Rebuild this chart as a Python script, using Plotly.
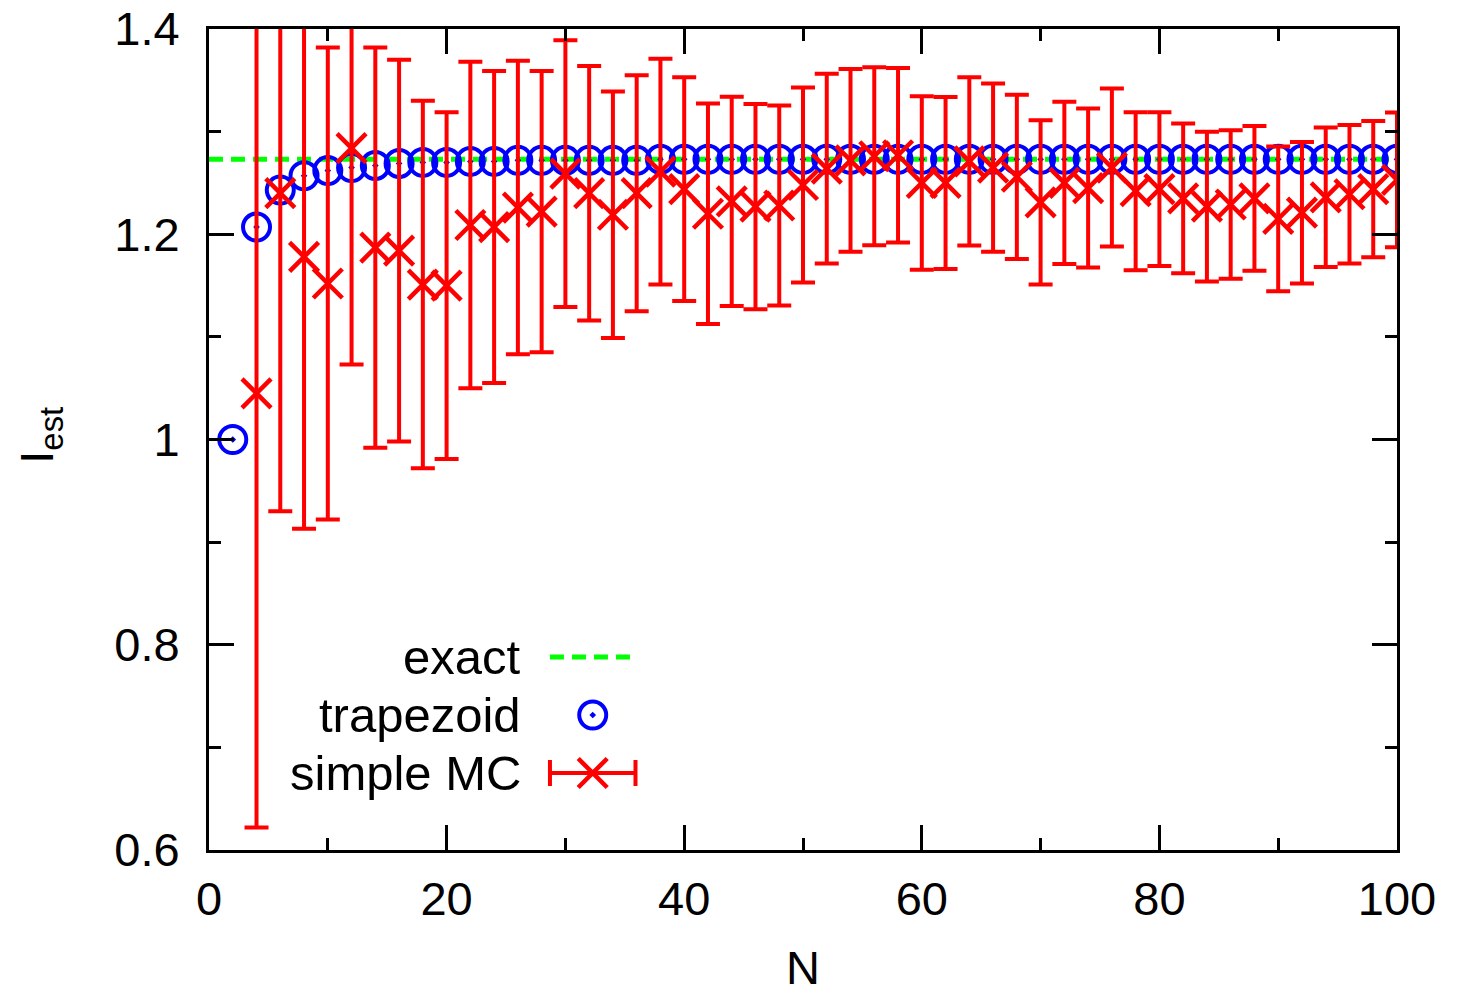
import plotly.graph_objects as go

# ---- data ----
exact_value = 1.2732
x_range = [0, 100]

trap_N = [2, 4, 6, 8, 10, 12, 14, 16, 18, 20, 22, 24, 26, 28, 30, 32, 34, 36, 38, 40,
          42, 44, 46, 48, 50, 52, 54, 56, 58, 60, 62, 64, 66, 68, 70, 72, 74, 76, 78, 80,
          82, 84, 86, 88, 90, 92, 94, 96, 98, 100]
trap_val = [1.000, 1.207, 1.243, 1.257, 1.262, 1.265, 1.267, 1.269, 1.270, 1.270,
            1.271, 1.271, 1.272, 1.272, 1.272, 1.272, 1.272, 1.272, 1.273, 1.273,
            1.273, 1.273, 1.273, 1.273, 1.273, 1.273, 1.273, 1.273, 1.273, 1.273,
            1.273, 1.273, 1.273, 1.273, 1.273, 1.273, 1.273, 1.273, 1.273, 1.273,
            1.273, 1.273, 1.273, 1.273, 1.273, 1.273, 1.273, 1.273, 1.273, 1.273]

mc_N = [4, 6, 8, 10, 12, 14, 16, 18, 20, 22, 24, 26, 28, 30, 32, 34, 36, 38, 40,
        42, 44, 46, 48, 50, 52, 54, 56, 58, 60, 62, 64, 66, 68, 70, 72, 74, 76, 78, 80,
        82, 84, 86, 88, 90, 92, 94, 96, 98, 100]
mc_val = [1.045, 1.240, 1.178, 1.152, 1.284, 1.187, 1.184, 1.151, 1.150, 1.209,
          1.207, 1.226, 1.222, 1.259, 1.240, 1.219, 1.240, 1.261, 1.244, 1.220,
          1.232, 1.227, 1.228, 1.248, 1.264, 1.272, 1.276, 1.277, 1.250, 1.250,
          1.271, 1.265, 1.256, 1.231, 1.250, 1.245, 1.265, 1.242, 1.244, 1.235,
          1.227, 1.229, 1.235, 1.215, 1.221, 1.236, 1.239, 1.244, 1.253]
mc_err = [0.423, 0.310, 0.265, 0.230, 0.211, 0.195, 0.186, 0.179, 0.169, 0.159,
          0.152, 0.143, 0.137, 0.130, 0.124, 0.120, 0.115, 0.110, 0.109, 0.1075,
          0.102, 0.100, 0.0975, 0.095, 0.0925, 0.089, 0.0867, 0.085, 0.0845, 0.0838,
          0.082, 0.082, 0.080, 0.080, 0.079, 0.0775, 0.077, 0.077, 0.075, 0.073,
          0.073, 0.0723, 0.0705, 0.0705, 0.069, 0.068, 0.0674, 0.0664, 0.0656]

y_tickvals = [0.6, 0.8, 1.0, 1.2, 1.4]
y_ticktext = ["0.6", "0.8", "1", "1.2", "1.4"]
x_tickvals = [0, 20, 40, 60, 80, 100]
x_ticktext = ["0", "20", "40", "60", "80", "100"]

legend_labels = ["exact", "trapezoid", "simple MC"]

GREEN = "#00ff00"
BLUE = "#0000ff"
RED = "#ff0000"
FONT = "Liberation Sans, Arial, Helvetica, sans-serif"
FS = 47
FS_LEG = 49

CIRCLE = dict(symbol="circle-open-dot", size=27, color=BLUE,
              line=dict(color=BLUE, width=4))
CROSS = dict(symbol="x-thin-open", size=29, color=RED,
             line=dict(color=RED, width=4.5))
DASH = dict(color=GREEN, width=5, dash="14px,8px")

fig = go.Figure()

fig.add_trace(go.Scatter(x=x_range, y=[exact_value, exact_value], mode="lines",
                         line=DASH, showlegend=False))

fig.add_trace(go.Scatter(x=trap_N, y=trap_val, mode="markers",
                         marker=CIRCLE, showlegend=False))

fig.add_trace(go.Scatter(
    x=mc_N, y=mc_val, mode="markers", marker=CROSS,
    error_y=dict(type="data", array=mc_err, visible=True, color=RED,
                 thickness=4, width=12),
    showlegend=False))

# ---- manual legend (text left, sample right, like gnuplot) ----
leg_rows_y = [0.235, 0.1644, 0.0938]
leg_text_x = 0.264
leg_sample_x0, leg_sample_x1, leg_sample_xc = 0.287, 0.359, 0.323

for lab, yy in zip(legend_labels, leg_rows_y):
    fig.add_annotation(xref="paper", yref="paper", x=leg_text_x, y=yy,
                       text=lab, showarrow=False, xanchor="right", yanchor="middle",
                       font=dict(family=FONT, size=FS_LEG, color="black"))

fig.add_trace(go.Scatter(
    x=[leg_sample_x0, leg_sample_x1], y=[leg_rows_y[0]] * 2, mode="lines",
    line=DASH, xaxis="x2", yaxis="y2", showlegend=False, hoverinfo="skip"))
fig.add_trace(go.Scatter(
    x=[leg_sample_xc], y=[leg_rows_y[1]], mode="markers", marker=CIRCLE,
    xaxis="x2", yaxis="y2", showlegend=False, hoverinfo="skip"))
fig.add_trace(go.Scatter(
    x=[leg_sample_xc], y=[leg_rows_y[2]], mode="markers", marker=CROSS,
    error_x=dict(type="constant", value=leg_sample_x1 - leg_sample_xc, visible=True,
                 color=RED, thickness=4, width=13),
    xaxis="x2", yaxis="y2", showlegend=False, hoverinfo="skip"))

# ---- axis titles ----
fig.add_annotation(xref="paper", yref="paper", x=0.5, y=-0.143, text="N",
                   showarrow=False, xanchor="center", yanchor="middle",
                   font=dict(family=FONT, size=FS, color="black"))
fig.add_annotation(xref="paper", yref="paper", x=-0.142, y=0.505, text="I<sub>est</sub>",
                   showarrow=False, xanchor="center", yanchor="middle", textangle=-90,
                   font=dict(family=FONT, size=FS, color="black"))

axis_common = dict(
    showline=True, linewidth=3, linecolor="black", mirror="ticks",
    ticks="inside", ticklen=25, tickwidth=3, tickcolor="black",
    showgrid=False, zeroline=False, automargin=False,
    ticklabeloverflow="allow",
    tickfont=dict(family=FONT, size=FS, color="black"),
)

# page body has an 8px default margin, so the figure is 8px smaller each way
fig.update_layout(
    width=1460, height=986,
    margin=dict(l=201, r=71, t=21, b=144),
    paper_bgcolor="white", plot_bgcolor="white",
    font=dict(family=FONT, size=FS, color="black"),
    xaxis=dict(range=x_range, tickmode="array", tickvals=x_tickvals, ticktext=x_ticktext,
               minor=dict(dtick=10, tick0=0, ticks="inside", ticklen=12, tickwidth=3,
                          tickcolor="black"),
               ticklabelstandoff=6, **axis_common),
    yaxis=dict(range=[0.6, 1.4], tickmode="array", tickvals=y_tickvals, ticktext=y_ticktext,
               minor=dict(dtick=0.1, tick0=0.6, ticks="inside", ticklen=12, tickwidth=3,
                          tickcolor="black"),
               ticklabelstandoff=17, **axis_common),
    xaxis2=dict(range=[0, 1], overlaying="x", visible=False, fixedrange=True),
    yaxis2=dict(range=[0, 1], overlaying="y", visible=False, fixedrange=True),
)

fig.write_html("out.html")
